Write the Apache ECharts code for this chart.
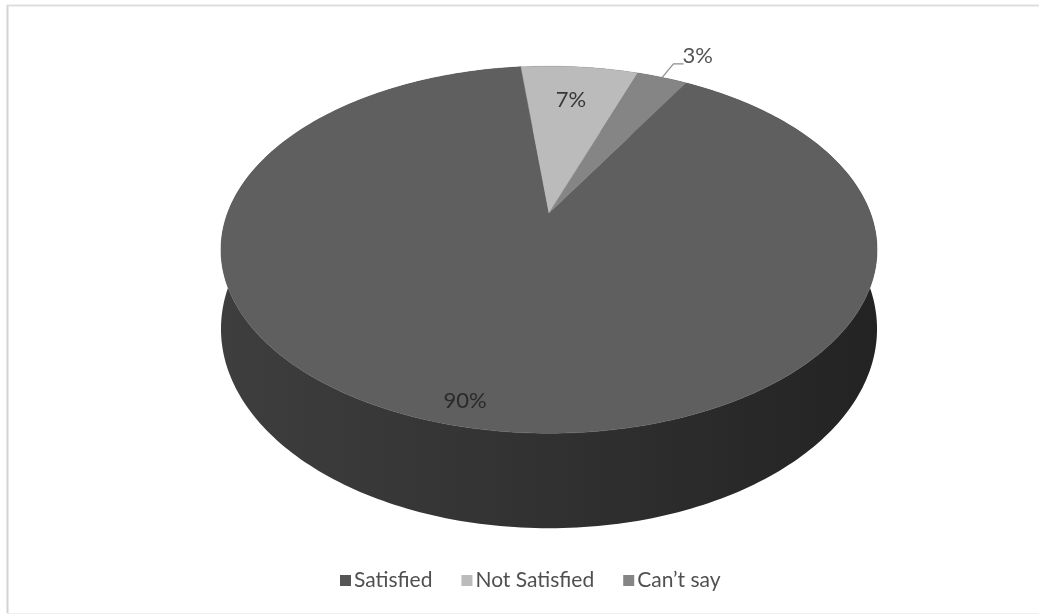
<!DOCTYPE html>
<html><head><meta charset="utf-8">
<script src="https://cdn.jsdelivr.net/npm/echarts@6/dist/echarts.min.js"></script>
<style>html,body{margin:0;padding:0;background:#fff}#c{width:1039px;height:616px}</style>
</head><body><div id="c"></div>
<script>
// ---- data ----
const categories = ['Satisfied', 'Not Satisfied', 'Can\u2019t say'];
const values = [90, 7, 3];

// ---- style / layout ----
const topColors = ['#5f5f5f', '#bbbbbb', '#858585'];
const legendColors = ['#555555', '#bbbbbb', '#858585'];
const FONT = 'Lato';
const CX = 549, CY = 213, A = 321.4, B = 176.2, PC = 0.2, T = 76;
const START_DEG = 30; // angle of first slice, clockwise from 12 o'clock

const total = values.reduce((s, v) => s + v, 0);
const cum = [];
values.reduce((s, v, i) => { cum[i] = s; return s + v; }, 0);

function proj(r, deg, h) {
  const t = deg * Math.PI / 180;
  const u = r * Math.sin(t), v = -r * Math.cos(t);
  const d = 1 - PC * v;
  return [CX + A * u / d, CY + B * v / d + h * T / d];
}
function arc(a1, a2, h) {
  const pts = [];
  const n = Math.max(2, Math.ceil(Math.abs(a2 - a1)));
  for (let k = 0; k <= n; k++) pts.push(proj(1, a1 + (a2 - a1) * k / n, h));
  return pts;
}
const sideGrad = new echarts.graphic.LinearGradient(221, 0, 877, 0, [
  { offset: 0, color: '#3e3e3e' },
  { offset: 0.5, color: '#313131' },
  { offset: 1, color: '#232323' }
], true);

function makeRender(i) {
  return function (params, api) {
    const val = api.value(0);
    const a1 = START_DEG + cum[i] / total * 360;
    const a2 = a1 + val / total * 360;
    const share = val / total;
    const children = [];
    // side wall
    const side = arc(a1, a2, 0).concat(arc(a2, a1, 1));
    children.push({ type: 'polygon', z2: 0, shape: { points: side }, style: { fill: sideGrad, stroke: null } });
    // top face
    const top = [proj(0, 0, 0)].concat(arc(a1, a2, 0));
    children.push({ type: 'polygon', z2: 10, shape: { points: top }, style: { fill: topColors[i], stroke: topColors[i], lineWidth: 0.5 } });
    // label
    const mid = (a1 + a2) / 2;
    const txt = Math.round(share * 100) + '%';
    if (share >= 0.05) {
      const big = share >= 0.5;
      const p = proj(big ? 0.91 : 0.74, mid, 0);
      children.push({ type: 'text', z2: 20, x: p[0] + (big ? -10 : -2), y: p[1] - (big ? 3 : 0), style: { text: txt, fill: big ? '#2a2a2a' : '#383838', font: '22px ' + FONT, align: 'center', verticalAlign: 'middle' } });
    } else {
      const p0 = proj(1.0, mid, 0), p1 = proj(1.12, mid, 0);
      const p2 = [p1[0] + 10, p1[1]];
      children.push({ type: 'polyline', z2: 20, shape: { points: [p0, p1, p2] }, style: { stroke: '#8c8c8c', lineWidth: 1.2, fill: null } });
      children.push({ type: 'text', z2: 20, x: p2[0] - 1, y: p2[1] - 8, style: { text: txt, fill: '#555555', font: '22px ' + FONT, align: 'left', verticalAlign: 'middle' } });
    }
    return { type: 'group', children: children };
  };
}

const chart = echarts.init(document.getElementById('c'), null, { renderer: 'canvas' });
chart.setOption({
  backgroundColor: '#ffffff',
  animation: false,
  legend: {
    data: categories,
    top: 565,
    left: 335,
    icon: 'rect',
    itemWidth: 11,
    itemHeight: 11,
    itemGap: 29,
    textStyle: { fontFamily: FONT, fontSize: 21, color: '#505050', padding: [0, 0, 0, -2] }
  },
  graphic: [
    { type: 'line', shape: { x1: 7.5, y1: 5, x2: 7.5, y2: 613 }, style: { stroke: '#d3d3d3', lineWidth: 2 } },
    { type: 'line', shape: { x1: 7, y1: 5.5, x2: 1039, y2: 5.5 }, style: { stroke: '#dedede', lineWidth: 2 } },
    { type: 'line', shape: { x1: 7, y1: 613.5, x2: 1039, y2: 613.5 }, style: { stroke: '#efefef', lineWidth: 1 } }
  ],
  series: categories.map((name, i) => ({
    type: 'custom',
    name: name,
    coordinateSystem: 'none',
    itemStyle: { color: legendColors[i] },
    data: [[values[i]]],
    renderItem: makeRender(i)
  }))
});
</script>
</body></html>
